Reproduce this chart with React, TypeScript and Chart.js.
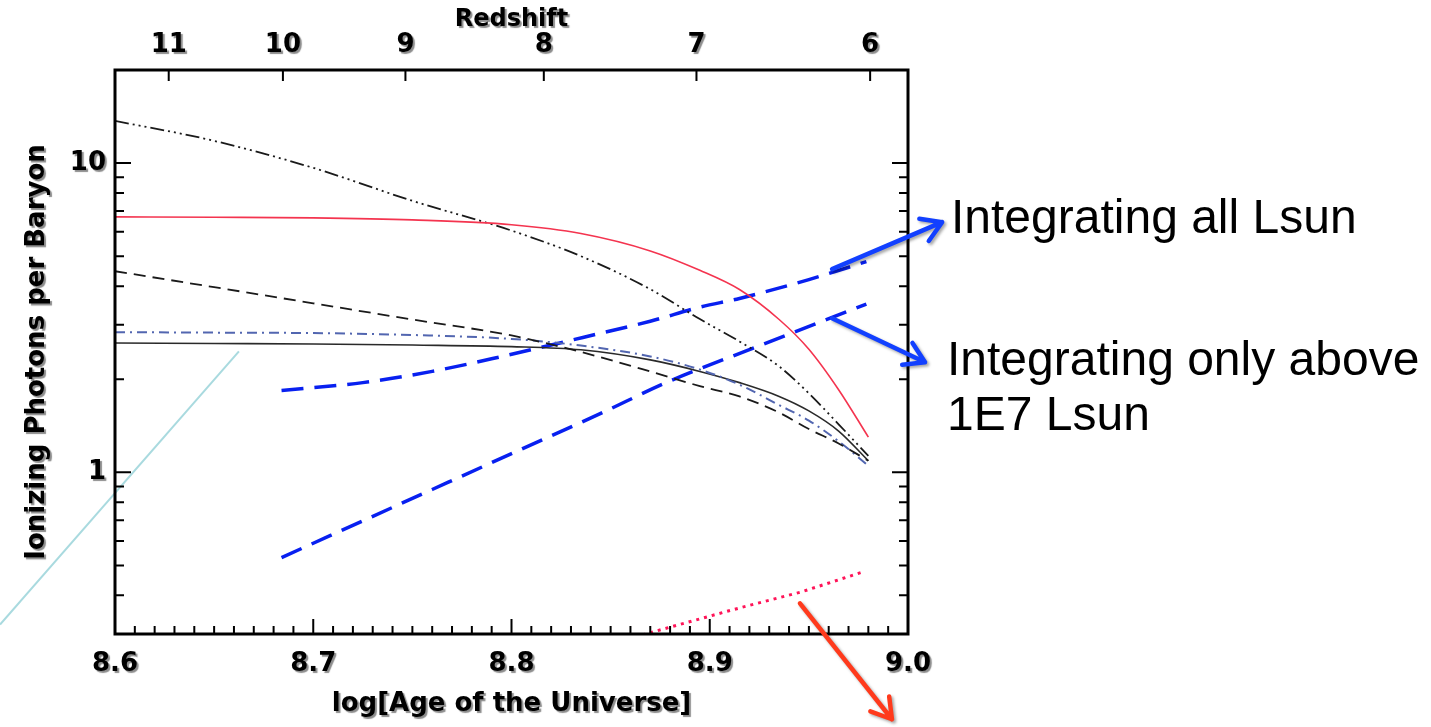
import React, { useEffect, useRef } from 'react';
import { Chart, registerables } from 'chart.js';

Chart.register(...registerables);

// ---- model curves (x = log[Age of the Universe], y = ionizing photons per baryon)
const AGES = [8.6, 8.65, 8.7, 8.75, 8.8, 8.835, 8.87, 8.895, 8.915, 8.935, 8.95, 8.965, 8.98];
const RED_SOLID = [6.7, 6.68, 6.65, 6.55, 6.32, 5.92, 5.2, 4.5, 3.9, 3.12, 2.5, 1.85, 1.3];
const BLACK_DASH_DOT = [13.7, 11.8, 9.65, 7.55, 6.05, 5.0, 3.91, 3.13, 2.65, 2.2, 1.8, 1.43, 1.13];
const BLACK_DASHED = [4.47, 3.97, 3.52, 3.12, 2.77, 2.45, 2.12, 1.9, 1.76, 1.56, 1.38, 1.24, 1.09];
const BLUE_DASH_DOT = [2.84, 2.83, 2.82, 2.78, 2.7, 2.57, 2.37, 2.15, 1.92, 1.65, 1.47, 1.26, 1.05];
const BLACK_SOLID = [2.62, 2.61, 2.6, 2.58, 2.55, 2.49, 2.31, 2.12, 1.95, 1.76, 1.58, 1.36, 1.09];

// ---- observational estimates
const ALL_LSUN_AGES = [8.684, 8.725, 8.76, 8.794, 8.836, 8.87, 8.895, 8.915, 8.95, 8.979];
const ALL_LSUN = [1.84, 1.95, 2.12, 2.36, 2.73, 3.08, 3.42, 3.65, 4.2, 4.8];
const ABOVE_1E7_AGES = [8.684, 8.76, 8.804, 8.845, 8.878, 8.919, 8.979];
const ABOVE_1E7 = [0.53, 0.88, 1.18, 1.55, 1.95, 2.48, 3.5];
const RED_DOTTED_AGES = [8.866, 8.912, 8.946, 8.978];
const RED_DOTTED = [0.298, 0.36, 0.41, 0.478];
const CYAN_AGES = [8.542, 8.6625];
const CYAN = [0.322, 2.46];

// ---- axes
const X_MIN = 8.6;
const X_MAX = 9.0;
const X_LABEL_TICKS = [8.6, 8.7, 8.8, 8.9, 9.0];
const X_MINOR_STEP = 0.01;
const Y_MIN = 0.3;
const Y_MAX = 20;
const Y_TICKS = [0.3, 0.4, 0.5, 0.6, 0.7, 0.8, 0.9, 1, 2, 3, 4, 5, 6, 7, 8, 9, 10, 20];
const Y_LABELED = [1, 10];
const REDSHIFT_LABELS = ['11', '10', '9', '8', '7', '6'];
const REDSHIFT_AGES = [8.6271, 8.6847, 8.7465, 8.8163, 8.8933, 8.9809];

// ---- annotation arrows (data units)
const ARROW_FROM_AGE = [8.9617, 8.9617, 8.9455];
const ARROW_FROM_VAL = [4.54, 3.15, 0.377];
const ARROW_TO_AGE = [9.0172, 9.0086, 8.9919];
const ARROW_TO_VAL = [6.44, 2.27, 0.159];
const ARROW_COLORS = ['#1240ff', '#1240ff', '#ff3a1c'];

const AXIS_FONT = '"DejaVu Sans", sans-serif';

const pts = (xs: number[], ys: number[]) => xs.map((x, i) => ({ x, y: ys[i] }));

function drawArrow(ctx: CanvasRenderingContext2D, x1: number, y1: number, x2: number, y2: number, color: string) {
  const ang = Math.atan2(y2 - y1, x2 - x1);
  const h = 23;
  const spread = 0.55;
  ctx.strokeStyle = color;
  ctx.lineWidth = 4.5;
  ctx.lineCap = 'round';
  ctx.lineJoin = 'round';
  ctx.beginPath();
  ctx.moveTo(x1, y1);
  ctx.lineTo(x2, y2);
  ctx.moveTo(x2 - h * Math.cos(ang - spread), y2 - h * Math.sin(ang - spread));
  ctx.lineTo(x2, y2);
  ctx.lineTo(x2 - h * Math.cos(ang + spread), y2 - h * Math.sin(ang + spread));
  ctx.stroke();
}

const framePlugin = {
  id: 'idlFrame',
  beforeDraw(chart: any) {
    const c = chart.ctx;
    c.save();
    c.shadowColor = 'rgba(0,0,0,0.45)';
    c.shadowOffsetX = 2;
    c.shadowOffsetY = 2;
    c.shadowBlur = 1;
  },
  beforeDatasetsDraw(chart: any) {
    chart.ctx.restore();
  },
  afterDatasetsDraw(chart: any) {
    const { ctx, chartArea: a, scales } = chart;
    const xs = scales.x;
    const ys = scales.y;
    ctx.save();
    ctx.strokeStyle = '#000';
    ctx.lineWidth = 2;
    ctx.beginPath();
    const n = Math.round((X_MAX - X_MIN) / X_MINOR_STEP);
    for (let i = 0; i <= n; i++) {
      const v = X_MIN + i * X_MINOR_STEP;
      const px = xs.getPixelForValue(v);
      const len = i % 10 === 0 ? 15 : 8;
      ctx.moveTo(px, a.bottom);
      ctx.lineTo(px, a.bottom - len);
    }
    Y_TICKS.forEach((v) => {
      const py = ys.getPixelForValue(v);
      const len = Y_LABELED.includes(v) ? 16 : 9;
      ctx.moveTo(a.left, py);
      ctx.lineTo(a.left + len, py);
      ctx.moveTo(a.right, py);
      ctx.lineTo(a.right - len, py);
    });
    REDSHIFT_AGES.forEach((v) => {
      const px = xs.getPixelForValue(v);
      ctx.moveTo(px, a.top);
      ctx.lineTo(px, a.top + 11);
    });
    ctx.stroke();
    ctx.lineWidth = 3;
    ctx.strokeRect(a.left, a.top, a.right - a.left, a.bottom - a.top);
    ctx.restore();
  },
  afterDraw(chart: any) {
    const { ctx, scales } = chart;
    const xs = scales.x;
    const ys = scales.y;
    ctx.save();
    ctx.shadowColor = 'rgba(0,0,0,0.35)';
    ctx.shadowOffsetX = 2;
    ctx.shadowOffsetY = 2;
    ctx.shadowBlur = 3;
    ARROW_FROM_AGE.forEach((_, i) => {
      drawArrow(
        ctx,
        xs.getPixelForValue(ARROW_FROM_AGE[i]),
        ys.getPixelForValue(ARROW_FROM_VAL[i]),
        xs.getPixelForValue(ARROW_TO_AGE[i]),
        ys.getPixelForValue(ARROW_TO_VAL[i]),
        ARROW_COLORS[i]
      );
    });
    ctx.restore();
  },
};

export default function App() {
  const ref = useRef<HTMLCanvasElement | null>(null);

  useEffect(() => {
    document.body.style.margin = '0';
    document.body.style.overflow = 'hidden';
    if (!ref.current) return;
    const curve = (label: string, ys: number[], color: string, width: number, dash: number[]) => ({
      label,
      data: pts(AGES, ys),
      borderColor: color,
      borderWidth: width,
      borderDash: dash,
      pointRadius: 0,
      fill: false,
      cubicInterpolationMode: 'monotone' as const,
    });
    const chart = new Chart(ref.current, {
      type: 'line',
      data: {
        datasets: [
          curve('Red solid', RED_SOLID, '#f4344f', 1.6, []),
          curve('Dash dot dot dot', BLACK_DASH_DOT, '#1a1a1a', 1.8, [14, 4, 2, 4, 2, 4, 2, 4]),
          curve('Dashed', BLACK_DASHED, '#1a1a1a', 1.8, [12, 7]),
          curve('Blue dash dot', BLUE_DASH_DOT, '#5266b0', 2, [10, 5, 2, 5]),
          curve('Solid', BLACK_SOLID, '#2a2a2a', 1.6, []),
          {
            label: 'Integrating all Lsun',
            data: pts(ALL_LSUN_AGES, ALL_LSUN),
            borderColor: '#0820f0',
            borderWidth: 3.5,
            borderDash: [22, 11],
            pointRadius: 0,
            cubicInterpolationMode: 'monotone',
          },
          {
            label: 'Integrating only above 1E7 Lsun',
            data: pts(ABOVE_1E7_AGES, ABOVE_1E7),
            borderColor: '#0820f0',
            borderWidth: 3.5,
            borderDash: [22, 11],
            pointRadius: 0,
            cubicInterpolationMode: 'monotone',
          },
          {
            label: 'Red dotted',
            data: pts(RED_DOTTED_AGES, RED_DOTTED),
            borderColor: '#ff1458',
            borderWidth: 3,
            borderDash: [3, 5],
            pointRadius: 0,
          },
          {
            label: 'Cyan',
            data: pts(CYAN_AGES, CYAN),
            borderColor: '#a9dadf',
            borderWidth: 2,
            pointRadius: 0,
            clip: false,
          },
        ],
      },
      options: {
        responsive: false,
        animation: false,
        devicePixelRatio: 1,
        layout: { padding: { left: 0, right: 523, top: 0, bottom: 0 } },
        plugins: { legend: { display: false }, tooltip: { enabled: false } },
        scales: {
          x: {
            type: 'linear',
            position: 'bottom',
            min: X_MIN,
            max: X_MAX,
            grid: { display: false, drawTicks: false },
            border: { display: false },
            afterBuildTicks: (s: any) => {
              s.ticks = X_LABEL_TICKS.map((v) => ({ value: v }));
            },
            afterFit: (s: any) => {
              s.height = 93;
            },
            ticks: {
              autoSkip: false,
              maxRotation: 0,
              padding: 15,
              color: '#000',
              font: { family: AXIS_FONT, size: 26, weight: 'bold' },
              callback: (v: any) => Number(v).toFixed(1),
            },
            title: {
              display: true,
              text: 'log[Age of the Universe]',
              color: '#000',
              font: { family: AXIS_FONT, size: 26, weight: 'bold' },
              padding: { top: 0, bottom: 7 },
            },
          },
          x2: {
            type: 'linear',
            position: 'top',
            min: X_MIN,
            max: X_MAX,
            grid: { display: false, drawTicks: false },
            border: { display: false },
            afterBuildTicks: (s: any) => {
              s.ticks = REDSHIFT_AGES.map((v) => ({ value: v }));
            },
            afterFit: (s: any) => {
              s.height = 70;
            },
            ticks: {
              autoSkip: false,
              maxRotation: 0,
              padding: 9,
              color: '#000',
              font: { family: AXIS_FONT, size: 26, weight: 'bold' },
              callback: (_v: any, i: number) => REDSHIFT_LABELS[i],
            },
            title: {
              display: true,
              text: 'Redshift',
              color: '#000',
              font: { family: AXIS_FONT, size: 24, weight: 'bold' },
              padding: { top: 5, bottom: 0 },
            },
          },
          y: {
            type: 'logarithmic',
            position: 'left',
            min: Y_MIN,
            max: Y_MAX,
            grid: { display: false, drawTicks: false },
            border: { display: false },
            afterBuildTicks: (s: any) => {
              s.ticks = Y_TICKS.map((v) => ({ value: v }));
            },
            afterFit: (s: any) => {
              s.width = 115;
            },
            ticks: {
              autoSkip: false,
              padding: 9,
              color: '#000',
              font: { family: AXIS_FONT, size: 26, weight: 'bold' },
              callback: (v: any) => (Y_LABELED.includes(Number(v)) ? String(v) : ''),
            },
            title: {
              display: true,
              text: 'Ionizing Photons per Baryon',
              color: '#000',
              font: { family: AXIS_FONT, size: 26, weight: 'bold' },
              padding: { top: 22, bottom: 0 },
            },
          },
        },
      } as any,
      plugins: [framePlugin],
    });
    return () => chart.destroy();
  }, []);

  const noteStyle: React.CSSProperties = {
    position: 'absolute',
    fontFamily: '"Liberation Sans", Arial, sans-serif',
    fontSize: 48,
    color: '#000',
    whiteSpace: 'nowrap',
  };

  return (
    <div style={{ position: 'relative', width: 1431, height: 727, background: '#fff', overflow: 'hidden' }}>
      <canvas ref={ref} width={1431} height={727} style={{ display: 'block', position: 'absolute', left: 0, top: 0 }} />
      <div style={{ ...noteStyle, left: 951, top: 193, lineHeight: '48px' }}>Integrating all Lsun</div>
      <div style={{ ...noteStyle, left: 947, top: 331, lineHeight: '55px' }}>
        Integrating only above
        <br />
        1E7 Lsun
      </div>
    </div>
  );
}
